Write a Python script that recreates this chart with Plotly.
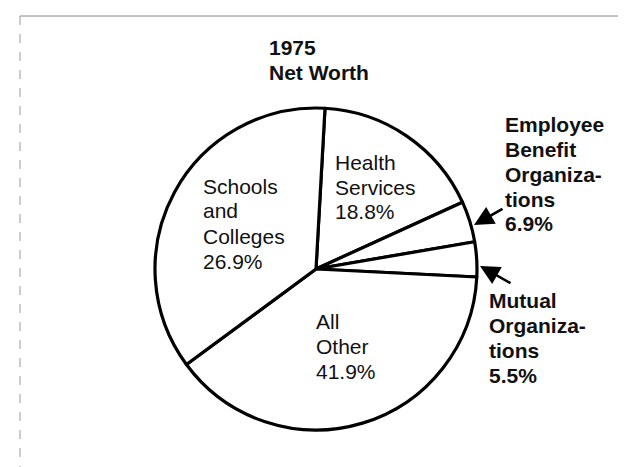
import plotly.graph_objects as go

W, H = 626, 467

# ---- data ----
categories = ["Health Services", "Employee Benefit Organizations",
              "Mutual Organizations", "All Other", "Schools and Colleges"]
stated_pct = [18.8, 6.9, 5.5, 41.9, 26.9]          # percentages printed on the chart
drawn_share = [17.3, 4.1, 3.5, 39.1, 36.0]         # slice sizes as actually drawn (angular share, %)
label_words = [["Health", "Services"],
               ["Employee", "Benefit", "Organiza-", "tions"],
               ["Mutual", "Organiza-", "tions"],
               ["All", "Other"],
               ["Schools", "and", "Colleges"]]
title_lines = ["1975", "Net Worth"]

# ---- layout / styling (pixel positions) ----
FONT = "Liberation Sans"
pie_cx, pie_cy, pie_r = 308, 261, 161
pad = 3  # annotation box padding + glyph bearing
label_place = {  # left x, centre y of first line, bold
    "Health Services": (328, 154, False),
    "Employee Benefit Organizations": (498, 116, True),
    "Mutual Organizations": (482, 292, True),
    "All Other": (309, 313, False),
    "Schools and Colleges": (196, 178, False),
}
line_step = 25
arrows = {  # tip (x, y), tail (x, y)
    "Employee Benefit Organizations": ((466, 217), (496, 200)),
    "Mutual Organizations": ((472, 258), (504, 276)),
}
title_place = (262, 40)


def px(x):
    return x / W


def py(y):
    return 1 - y / H


fig = go.Figure()
fig.add_trace(go.Pie(
    values=drawn_share, labels=categories, sort=False,
    direction="clockwise", rotation=3.2,
    marker=dict(colors=["white"] * len(categories),
                line=dict(color="black", width=3.2)),
    textinfo="none", hoverinfo="skip", showlegend=False,
    domain=dict(x=[px(pie_cx - pie_r), px(pie_cx + pie_r)],
                y=[py(pie_cy + pie_r), py(pie_cy - pie_r)]),
))

ann = []
# title
for i, t in enumerate(title_lines):
    ann.append(dict(x=px(title_place[0] - pad), y=py(title_place[1] + i * line_step),
                    xref="paper", yref="paper", xanchor="left", yanchor="middle",
                    text=t, showarrow=False,
                    font=dict(family=FONT, size=21, color="#111", weight="bold")))
# slice labels
for cat, words, pct in zip(categories, label_words, stated_pct):
    x0, y0, bold = label_place[cat]
    lines = words + [f"{pct}%"]
    for i, t in enumerate(lines):
        ann.append(dict(x=px(x0 - pad), y=py(y0 + i * line_step),
                        xref="paper", yref="paper", xanchor="left", yanchor="middle",
                        text=t, showarrow=False,
                        font=dict(family=FONT, size=21, color="#111",
                                  weight="bold" if bold else "normal")))
# arrows
for cat, ((tx, ty), (sx, sy)) in arrows.items():
    ann.append(dict(x=px(tx), y=py(ty), xref="paper", yref="paper",
                    ax=sx - tx, ay=sy - ty, text="", showarrow=True,
                    arrowhead=2, arrowsize=1.5, arrowwidth=2.6,
                    arrowcolor="black", standoff=0, startstandoff=0))

# faint scanned frame
shapes = [
    dict(type="line", xref="paper", yref="paper", x0=px(12), x1=px(622), y0=py(8), y1=py(8),
         line=dict(color="#8a8a8a", width=1)),
    dict(type="line", xref="paper", yref="paper", x0=px(12), x1=px(12), y0=py(8), y1=py(462),
         line=dict(color="#9a9a9a", width=1, dash="dash")),
    dict(type="line", xref="paper", yref="paper", x0=px(622), x1=px(622), y0=py(8), y1=py(462),
         line=dict(color="#777777", width=1.2, dash="dash")),
    dict(type="line", xref="paper", yref="paper", x0=px(12), x1=px(200), y0=py(463), y1=py(463),
         line=dict(color="#bbbbbb", width=1, dash="dot")),
]

fig.update_layout(
    width=W, height=H, margin=dict(l=0, r=0, t=0, b=0),
    paper_bgcolor="white", plot_bgcolor="white",
    annotations=ann, shapes=shapes, showlegend=False,
)

fig.write_html("out.html")
